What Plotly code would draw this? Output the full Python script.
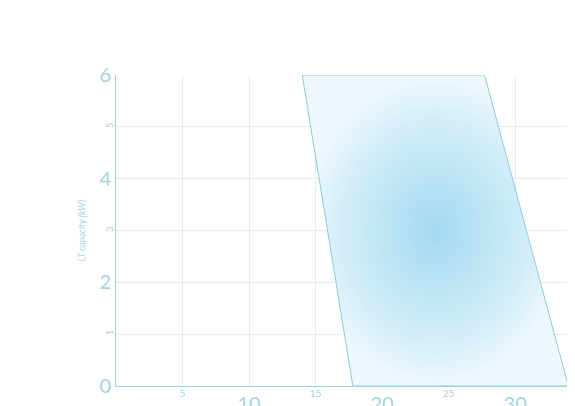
import plotly.graph_objects as go

# operating envelope corners (x = temperature-ish, y = LT capacity kW)
env_x = [17.8, 14.0, 27.7, 34.0, 17.8]
env_y = [0, 6, 6, 0, 0]

x_major = [10, 20, 30]
y_major = [0, 2, 4, 6]

axis_col = '#9fd3e0'
grid_col = '#e3eef2'
font_col = '#a6d4df'

fig = go.Figure()
fig.add_trace(go.Scatter(
    x=env_x, y=env_y, mode='lines', fill='toself',
    line=dict(color='#8ccbdc', width=1),
    fillgradient=dict(type='radial',
                      colorscale=[[0, '#a3d9f1'], [0.7, '#d2edf8'], [1, '#eef8fc']]),
    hoverinfo='skip', showlegend=False))

fig.update_layout(
    width=575, height=406,
    margin=dict(l=108, r=0, t=67, b=28),
    plot_bgcolor='white', paper_bgcolor='white',
    font=dict(family='Lato', color=font_col),
    xaxis=dict(range=[0, 35.1], tickvals=x_major, ticklen=0, automargin=False,
               tickfont=dict(size=20, color=font_col),
               showgrid=False, zeroline=False,
               showline=True, linecolor=axis_col, linewidth=1),
    xaxis2=dict(range=[0, 35.1], overlaying='x', side='bottom', automargin=False,
                tickvals=list(range(5, 36, 5)), ticktext=['5', '', '15', '', '25', '', ''],
                tickfont=dict(size=10, color=font_col), ticklen=0,
                showgrid=True, gridcolor=grid_col, zeroline=False),
    yaxis=dict(range=[0, 6], tickvals=y_major, ticklen=0, automargin=False,
               tickfont=dict(size=20, color=font_col),
               showgrid=False, zeroline=False,
               showline=True, linecolor=axis_col, linewidth=1,
               title=dict(text='<i>LT capacity [kW]</i>', font=dict(size=9, color=font_col),
                          standoff=12)),
    yaxis2=dict(range=[0, 6], overlaying='y', side='left', automargin=False,
                tickvals=[1, 2, 3, 4, 5], ticktext=['1', '', '3', '', '5'],
                tickangle=-90, tickfont=dict(size=10, color=font_col), ticklen=0,
                showgrid=True, gridcolor=grid_col, zeroline=False),
)
# invisible trace to activate the minor axes
fig.add_trace(go.Scatter(x=[0], y=[0], xaxis='x2', yaxis='y2', mode='markers',
                         marker=dict(opacity=0), hoverinfo='skip', showlegend=False))

fig.write_html("out.html")
